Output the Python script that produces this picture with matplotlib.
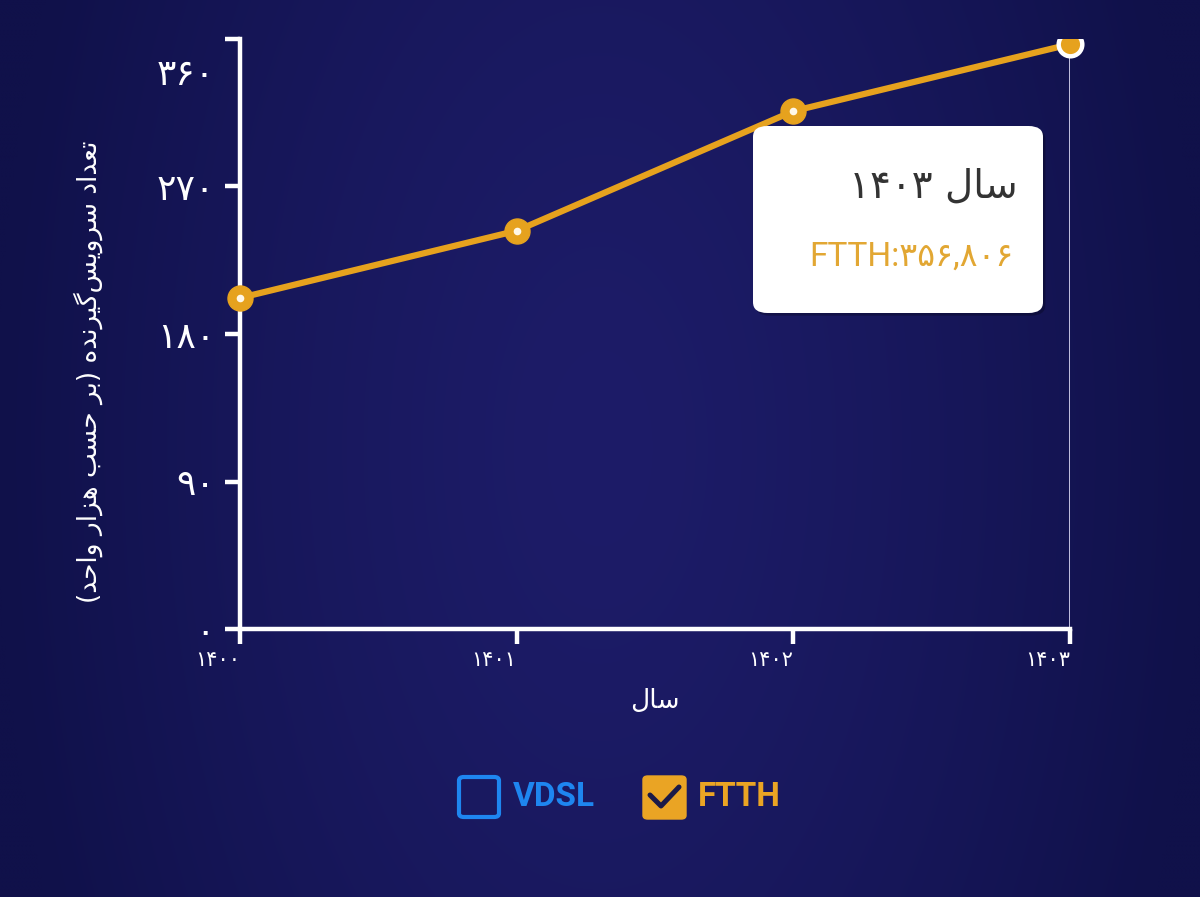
import re
import numpy as np
import matplotlib
matplotlib.use("Agg")
import matplotlib.pyplot as plt
from matplotlib.patches import FancyBboxPatch
from matplotlib.lines import Line2D
from matplotlib.transforms import Bbox, TransformedBbox

# ---------------- data ----------------
years = [1400, 1401, 1402, 1403]
ftth_values = [202, 243, 316, 356.806]
year_labels = ["۱۴۰۰", "۱۴۰۱", "۱۴۰۲", "۱۴۰۳"]
y_ticks = [0, 90, 180, 270, 360]
y_tick_labels = ["۰", "۹۰", "۱۸۰", "۲۷۰", "۳۶۰"]
x_title = "سال"
y_title = "تعداد سرویس‌گیرنده (بر حسب هزار واحد)"
tooltip_title = "سال ۱۴۰۳"
tooltip_value = "FTTH:۳۵۶,۸۰۶"
legend_labels = ["VDSL", "FTTH"]
hover_index = 3

# ---------------- colours ----------------
ORANGE = "#E6A21E"
BLUE = "#1E86F0"
WHITE = "#FFFFFF"

# ---------------- minimal Persian shaping (presentation forms + RTL order) ----------------
DUAL = {
    "ب": (0xFE8F, 0xFE90, 0xFE91, 0xFE92),
    "ت": (0xFE95, 0xFE96, 0xFE97, 0xFE98),
    "ح": (0xFEA1, 0xFEA2, 0xFEA3, 0xFEA4),
    "س": (0xFEB1, 0xFEB2, 0xFEB3, 0xFEB4),
    "ع": (0xFEC9, 0xFECA, 0xFECB, 0xFECC),
    "ل": (0xFEDD, 0xFEDE, 0xFEDF, 0xFEE0),
    "ن": (0xFEE5, 0xFEE6, 0xFEE7, 0xFEE8),
    "ه": (0xFEE9, 0xFEEA, 0xFEEB, 0xFEEC),
    "ی": (0xFBFC, 0xFBFD, 0xFBFE, 0xFBFF),
    "گ": (0xFB92, 0xFB93, 0xFB94, 0xFB95),
}
RIGHT = {
    "ا": (0xFE8D, 0xFE8E),
    "د": (0xFEA9, 0xFEAA),
    "ر": (0xFEAD, 0xFEAE),
    "ز": (0xFEAF, 0xFEB0),
    "و": (0xFEED, 0xFEEE),
}


def shape(s):
    out = []
    i = 0
    while i < len(s):
        c = s[i]
        prev = s[i - 1] if i > 0 else ""
        nxt = s[i + 1] if i + 1 < len(s) else ""
        if c == "ل" and nxt == "ا":
            out.append(chr(0xFEFC if prev in DUAL else 0xFEFB))
            i += 2
            continue
        forms = DUAL.get(c) or RIGHT.get(c)
        if forms is None:
            if c != "\u200c":
                out.append(c)
            i += 1
            continue
        jp = prev in DUAL
        jn = c in DUAL and (nxt in DUAL or nxt in RIGHT)
        if jp and jn:
            f = forms[3]
        elif jp:
            f = forms[1]
        elif jn:
            f = forms[2]
        else:
            f = forms[0]
        out.append(chr(f))
        i += 1
    return "".join(out)


def rtl(s):
    shaped = shape(s)
    tokens = re.findall(r"[0-9\u06F0-\u06F9,.]+|.", shaped, flags=re.S)
    tokens.reverse()
    mirror = {"(": ")", ")": "("}
    return "".join(mirror.get(t, t) for t in tokens)


FA = ["DejaVu Sans"]

# ---------------- figure ----------------
W, H = 1200, 897
fig = plt.figure(figsize=(W / 100, H / 100), dpi=100)


def px(x, y):
    return (x / W, 1 - y / H)


# background gradient
bg = fig.add_axes([0, 0, 1, 1], zorder=-10)
gx = np.linspace(-1, 1, 300)
gy = np.linspace(-1, 1, 220)
X, Y = np.meshgrid(gx, gy)
r = np.clip(np.sqrt(X ** 2 + (Y / 2.5) ** 2), 0, 1) ** 1.4
c_center = np.array([0x1D, 0x1C, 0x68]) / 255
c_edge = np.array([0x10, 0x11, 0x4A]) / 255
img = c_center[None, None, :] * (1 - r[..., None]) + c_edge[None, None, :] * r[..., None]
bg.imshow(img, aspect="auto", extent=[0, 1, 0, 1], interpolation="bicubic")
bg.set_axis_off()

# main axes
ax = fig.add_axes([240 / W, 1 - 629 / H, 830 / W, 590 / H])
ax.patch.set_alpha(0)
ax.set_xlim(years[0], years[-1])
ax.set_ylim(y_ticks[0], y_ticks[-1])
for s in ["top", "right"]:
    ax.spines[s].set_visible(False)
for s in ["left", "bottom"]:
    ax.spines[s].set_color(WHITE)
    ax.spines[s].set_linewidth(3.2)
    ax.spines[s].set_capstyle("projecting")

ax.set_xticks(years)
ax.set_xticklabels(year_labels, family=FA, fontsize=15, color=WHITE, ha="right")
ax.tick_params(axis="x", length=11, width=3.2, colors=WHITE, pad=4)
ax.set_yticks(y_ticks)
ax.set_yticklabels(y_tick_labels[:-1] + [""], family=FA, fontsize=26, color=WHITE)
ax.tick_params(axis="y", length=11, width=3.2, colors=WHITE, pad=7)
# top tick label sits lower so it stays inside the frame
ax.annotate(y_tick_labels[-1], xy=(0, y_ticks[-1]), xycoords=("axes fraction", "data"),
            xytext=(-25, -36), textcoords="offset pixels", ha="right", va="center",
            family=FA, fontsize=26, color=WHITE)

ax.set_xlabel(rtl(x_title), family=FA, fontsize=19, color=WHITE, va="center")
ax.xaxis.set_label_coords(0.5, -(701 - 629) / 590)
ax.set_ylabel(rtl(y_title), family=FA, fontsize=19, color=WHITE, va="center")
ax.yaxis.set_label_coords((88 - 240) / 830, (629 - 372) / 590)

# clip region: everything below the top edge of the axes, full width
clip = TransformedBbox(Bbox.from_extents(0, 0, 1, 1 - 39 / H), fig.transFigure)

# crosshair at hovered point
ax.plot([years[hover_index]] * 2, [y_ticks[0], ftth_values[hover_index]],
        color="#D4D2EE", lw=2.0, zorder=2)

# series line + markers
line, = ax.plot(years, ftth_values, color=ORANGE, lw=4.5, zorder=3,
                solid_capstyle="round")
m1, = ax.plot(years[:hover_index], ftth_values[:hover_index], ls="none", marker="o",
              ms=18, mfc=ORANGE, mec=ORANGE, zorder=4, clip_on=False)
m2, = ax.plot(years[:hover_index], ftth_values[:hover_index], ls="none", marker="o",
              ms=5.5, mfc="#FFF8E8", mec="none", zorder=5, clip_on=False)
m3, = ax.plot([years[hover_index]], [ftth_values[hover_index]], ls="none", marker="o",
              ms=17, mfc=ORANGE, mec=WHITE, mew=3.2, zorder=5)
m3.set_clip_path(None)
m3.set_clip_box(clip)

# tooltip
x0, y0 = px(753, 313)
x1, y1 = px(1043, 126)
shadow = FancyBboxPatch((x0 + 0.002, y0 - 0.003), x1 - x0, y1 - y0,
                        boxstyle="round,pad=0,rounding_size=0.012",
                        transform=fig.transFigure, fc="#000000", ec="none",
                        alpha=0.25, zorder=19)
box = FancyBboxPatch((x0, y0), x1 - x0, y1 - y0,
                     boxstyle="round,pad=0,rounding_size=0.012",
                     transform=fig.transFigure, fc=WHITE, ec="none", zorder=20)
fig.add_artist(shadow)
fig.add_artist(box)
fig.text(*px(1018, 187), rtl(tooltip_title), family=FA, fontsize=28, color="#333333",
         ha="right", va="center", zorder=21)
fig.text(*px(1013, 257), tooltip_value, family=["Roboto", "DejaVu Sans"],
         fontsize=24, color="#E2A733", ha="right", va="center", zorder=21)

# legend (checkbox style)
bx0, by0 = px(459, 817)
bx1, by1 = px(499, 777)
fig.add_artist(FancyBboxPatch((bx0, by0), bx1 - bx0, by1 - by0,
                              boxstyle="round,pad=0,rounding_size=0.004",
                              transform=fig.transFigure, fc="none", ec=BLUE, lw=3))
fig.text(*px(513, 797), legend_labels[0], family=["Roboto"], fontweight="bold",
         fontsize=24, color=BLUE, ha="left", va="center")
ox0, oy0 = px(643, 819)
ox1, oy1 = px(686, 776)
fig.add_artist(FancyBboxPatch((ox0, oy0), ox1 - ox0, oy1 - oy0,
                              boxstyle="round,pad=0,rounding_size=0.004",
                              transform=fig.transFigure, fc="#EAA424", ec="#EAA424", lw=1))
cx = [650 / W, 661 / W, 679 / W]
cy = [1 - 795 / H, 1 - 806 / H, 1 - 787 / H]
fig.add_artist(Line2D(cx, cy, transform=fig.transFigure, color="#1B1A48", lw=3.6,
                      solid_capstyle="round", solid_joinstyle="round"))
fig.text(*px(698, 797), legend_labels[1], family=["Roboto"], fontweight="bold",
         fontsize=24, color="#EAA424", ha="left", va="center")

fig.savefig("out.png", dpi=100)
